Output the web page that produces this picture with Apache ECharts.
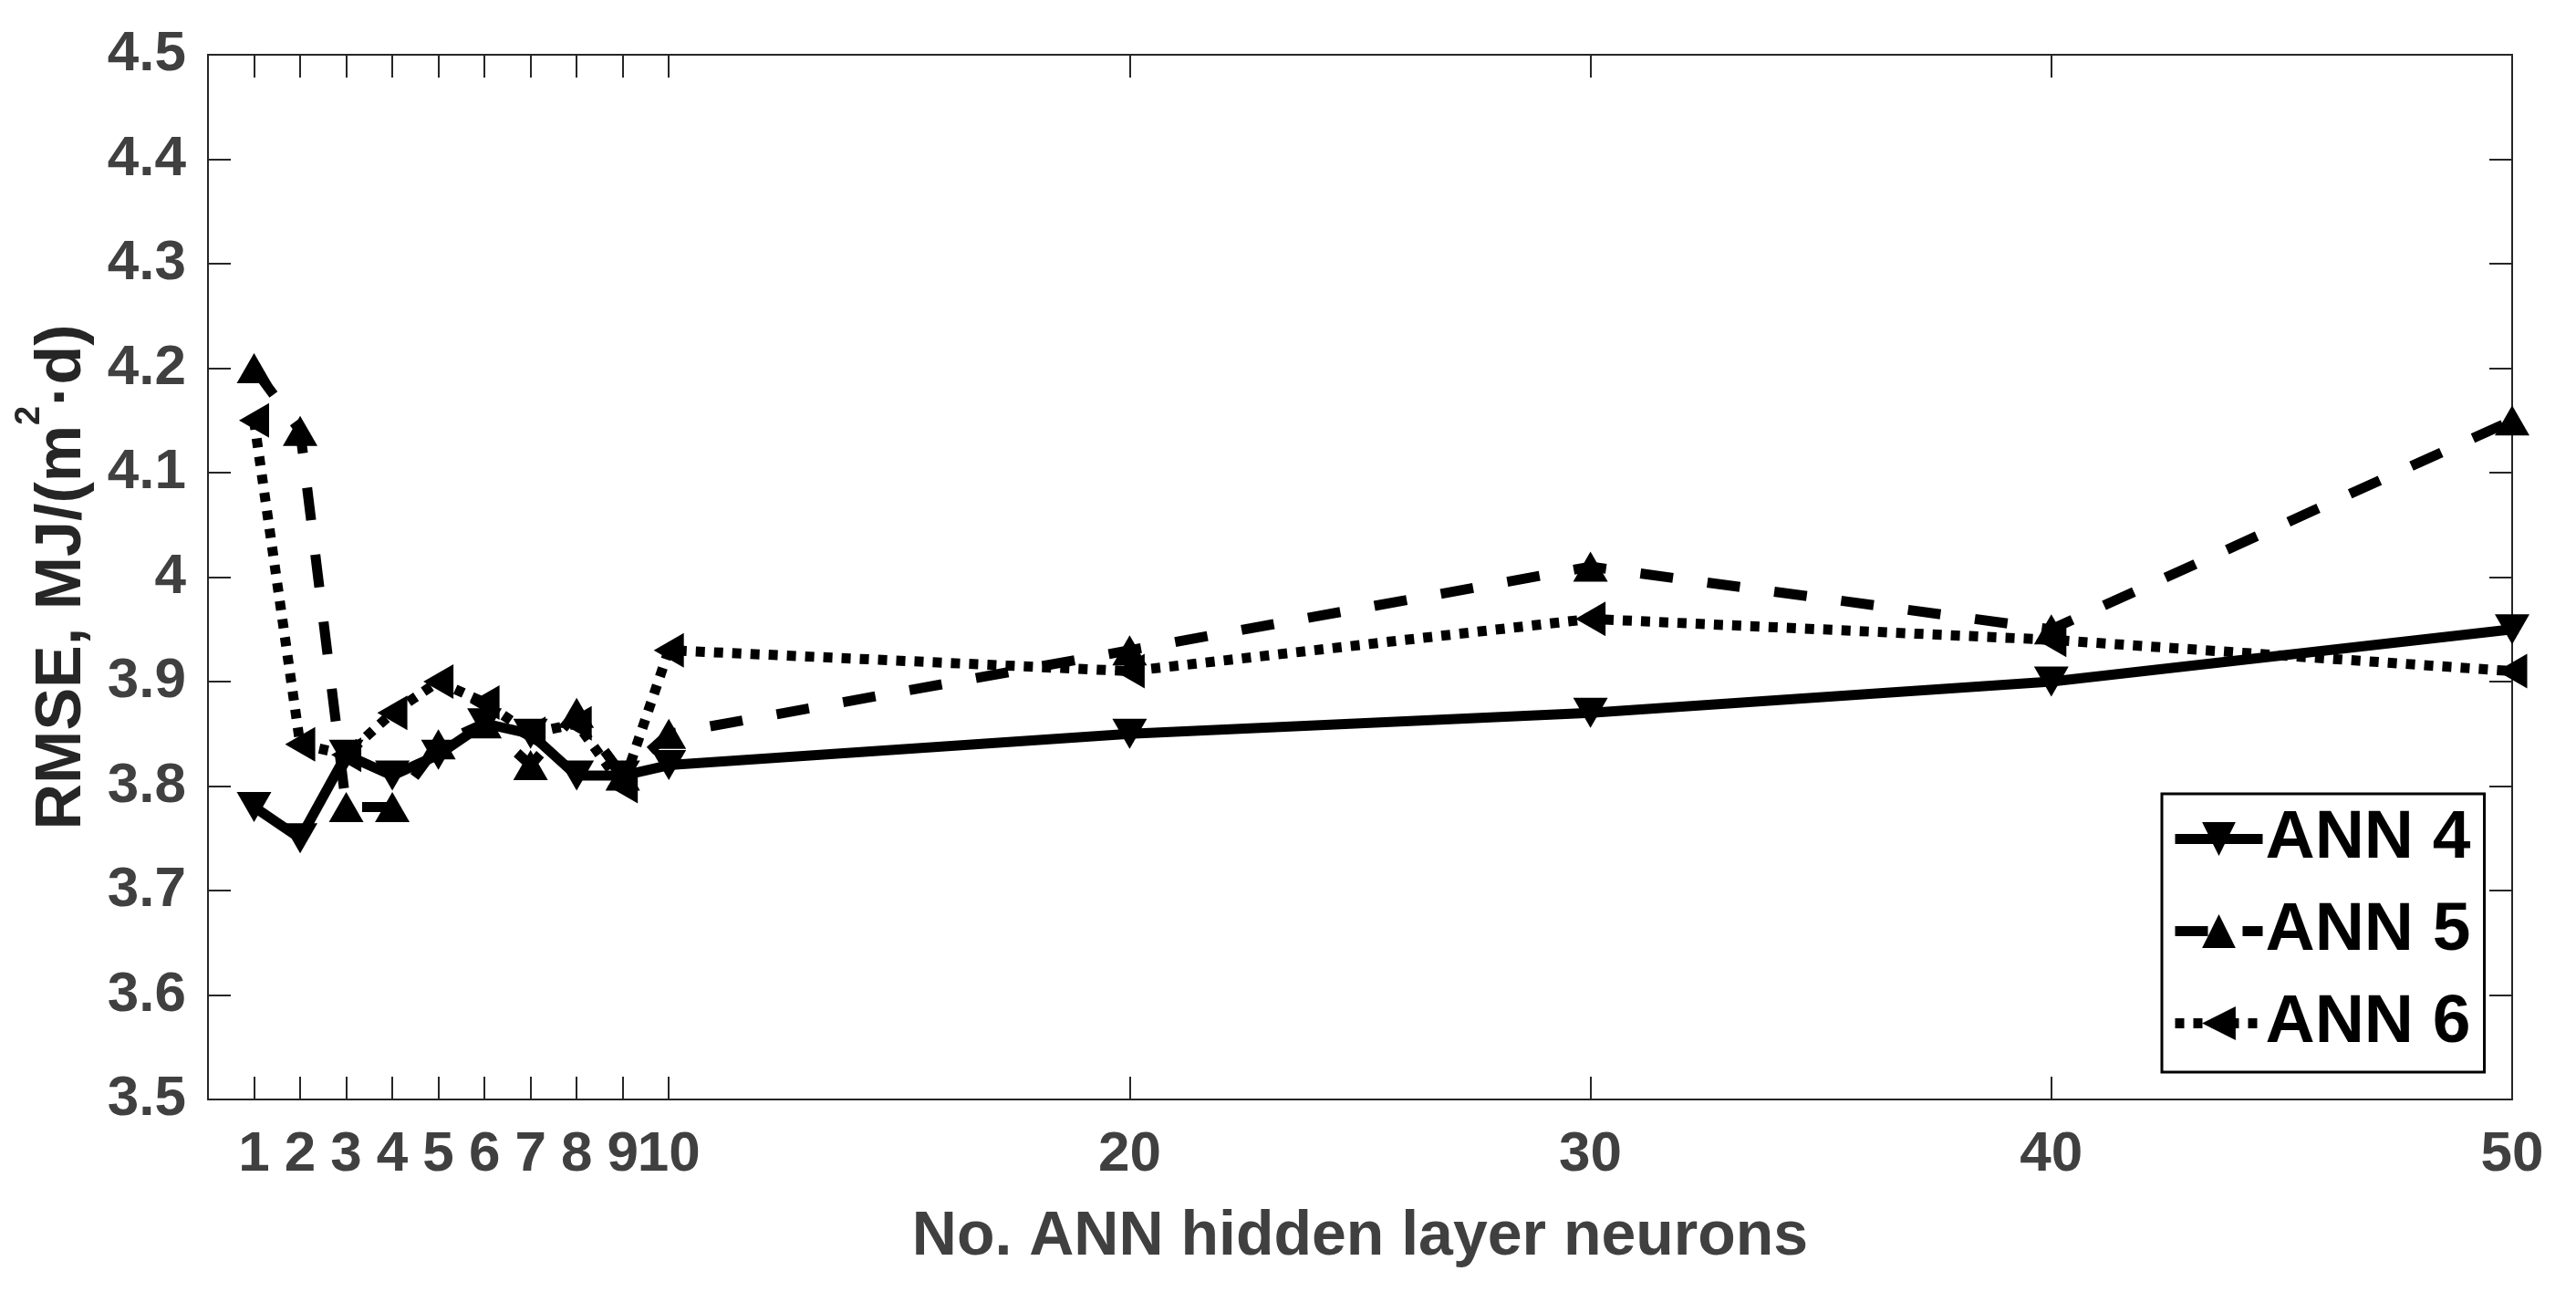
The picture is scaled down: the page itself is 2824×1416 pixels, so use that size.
<!DOCTYPE html>
<html><head><meta charset="utf-8">
<script src="https://cdn.jsdelivr.net/npm/echarts@6/dist/echarts.min.js"></script>
<style>html,body{margin:0;padding:0;background:#fff}#c{width:2824px;height:1416px}</style>
</head><body><div id="c"></div>
<script>
// ---- data ----
const neurons = [1, 2, 3, 4, 5, 6, 7, 8, 9, 10, 20, 30, 40, 50];
const ann4 = [3.78, 3.75, 3.83, 3.81, 3.83, 3.86, 3.85, 3.81, 3.81, 3.82, 3.85, 3.87, 3.90, 3.95];
const ann5 = [4.20, 4.14, 3.78, 3.78, 3.84, 3.86, 3.82, 3.87, 3.81, 3.85, 3.93, 4.01, 3.95, 4.15];
const ann6 = [4.15, 3.84, 3.83, 3.87, 3.90, 3.88, 3.85, 3.86, 3.80, 3.93, 3.91, 3.96, 3.94, 3.91];
const xTicks = [1, 2, 3, 4, 5, 6, 7, 8, 9, 10, 20, 30, 40, 50];
const seriesNames = ['ANN 4', 'ANN 5', 'ANN 6'];
const xTitle = 'No. ANN hidden layer neurons';

// ---- styling ----
const FONT = 'Liberation Sans';
const AX = '#262626';
const TXT = '#404040';
const LW = 11;
const DOWN = 'path://M0,0L38,0L19,33Z';
const UP = 'path://M19,0L38,33L0,33Z';
const LEFT = 'path://M0,19L33,0L33,38Z';
const DASH = [36, 38];
const DOT = [10, 10];

const pairs = arr => neurons.map((x, i) => [x, arr[i]]);

function mkSeries(name, arr, symbol, size, dash) {
  return {
    name, type: 'line', data: pairs(arr), symbol, symbolSize: size,
    showAllSymbol: true, clip: false,
    lineStyle: { color: '#000', width: LW, type: dash, cap: 'butt' },
    itemStyle: { color: '#000', borderWidth: 0 },
    emphasis: { disabled: true }
  };
}

const chart = echarts.init(document.getElementById('c'), null, { renderer: 'canvas' });
chart.setOption({
  animation: false,
  backgroundColor: '#fff',
  grid: { left: 228, right: 70, top: 60, bottom: 211, containLabel: false, outerBoundsMode: 'none' },
  xAxis: [{
    type: 'value', min: 0, max: 50, position: 'bottom',
    name: xTitle, nameLocation: 'middle', nameGap: 117, nameMoveOverlap: false,
    nameTextStyle: { fontFamily: FONT, fontWeight: 'bold', fontSize: 68, color: TXT },
    axisLine: { show: true, onZero: false, lineStyle: { color: AX, width: 2 } },
    axisTick: { show: true, inside: true, length: 25, customValues: xTicks, lineStyle: { color: AX, width: 2 } },
    axisLabel: { show: true, customValues: xTicks, margin: 30, fontFamily: FONT, fontWeight: 'bold', fontSize: 62, color: TXT, hideOverlap: false },
    splitLine: { show: false }
  }, {
    type: 'value', min: 0, max: 50, position: 'top',
    axisLine: { show: true, onZero: false, lineStyle: { color: AX, width: 2 } },
    axisTick: { show: true, inside: true, length: 25, customValues: xTicks, lineStyle: { color: AX, width: 2 } },
    axisLabel: { show: false },
    splitLine: { show: false }
  }],
  yAxis: [{
    type: 'value', min: 3.5, max: 4.5, interval: 0.1, position: 'left',
    name: '{a|RMSE, MJ/(m}{s|2}{a|·d)}', nameLocation: 'middle', nameGap: 124, nameMoveOverlap: false,
    nameTextStyle: {
      rich: {
        a: { fontFamily: FONT, fontWeight: 'bold', fontSize: 70, color: AX, lineHeight: 70, verticalAlign: 'bottom' },
        s: { fontFamily: FONT, fontWeight: 'bold', fontSize: 38, color: AX, lineHeight: 38, verticalAlign: 'bottom', padding: [0, 0, 52, 0] }
      }
    },
    axisLine: { show: true, onZero: false, lineStyle: { color: AX, width: 2 } },
    axisTick: { show: true, inside: true, length: 25, lineStyle: { color: AX, width: 2 } },
    axisLabel: {
      show: true, margin: 24, fontFamily: FONT, fontWeight: 'bold', fontSize: 62, color: TXT,
      formatter: v => String(Math.round(v * 10) / 10)
    },
    splitLine: { show: false }
  }, {
    type: 'value', min: 3.5, max: 4.5, interval: 0.1, position: 'right',
    axisLine: { show: true, onZero: false, lineStyle: { color: AX, width: 2 } },
    axisTick: { show: true, inside: true, length: 25, lineStyle: { color: AX, width: 2 } },
    axisLabel: { show: false },
    splitLine: { show: false }
  }],
  legend: {
    orient: 'vertical', left: 2370, top: 870,
    padding: [12, 15, 16, 9],
    itemWidth: 96, itemHeight: 46, itemGap: 26,
    backgroundColor: '#fff', borderColor: '#000', borderWidth: 3,
    lineStyle: { width: LW },
    textStyle: { fontFamily: FONT, fontWeight: 'bold', fontSize: 75, color: '#000', padding: [0, 0, 0, -2] },
    data: [
      { name: seriesNames[0], lineStyle: { width: LW, type: 'solid' } },
      { name: seriesNames[1], lineStyle: { width: LW, type: DASH } },
      { name: seriesNames[2], lineStyle: { width: LW, type: DOT } }
    ],
    selectedMode: false
  },
  series: [
    mkSeries(seriesNames[0], ann4, DOWN, [38, 33], 'solid'),
    mkSeries(seriesNames[1], ann5, UP, [38, 33], DASH),
    mkSeries(seriesNames[2], ann6, LEFT, [33, 38], DOT)
  ]
});
</script>
</body></html>
